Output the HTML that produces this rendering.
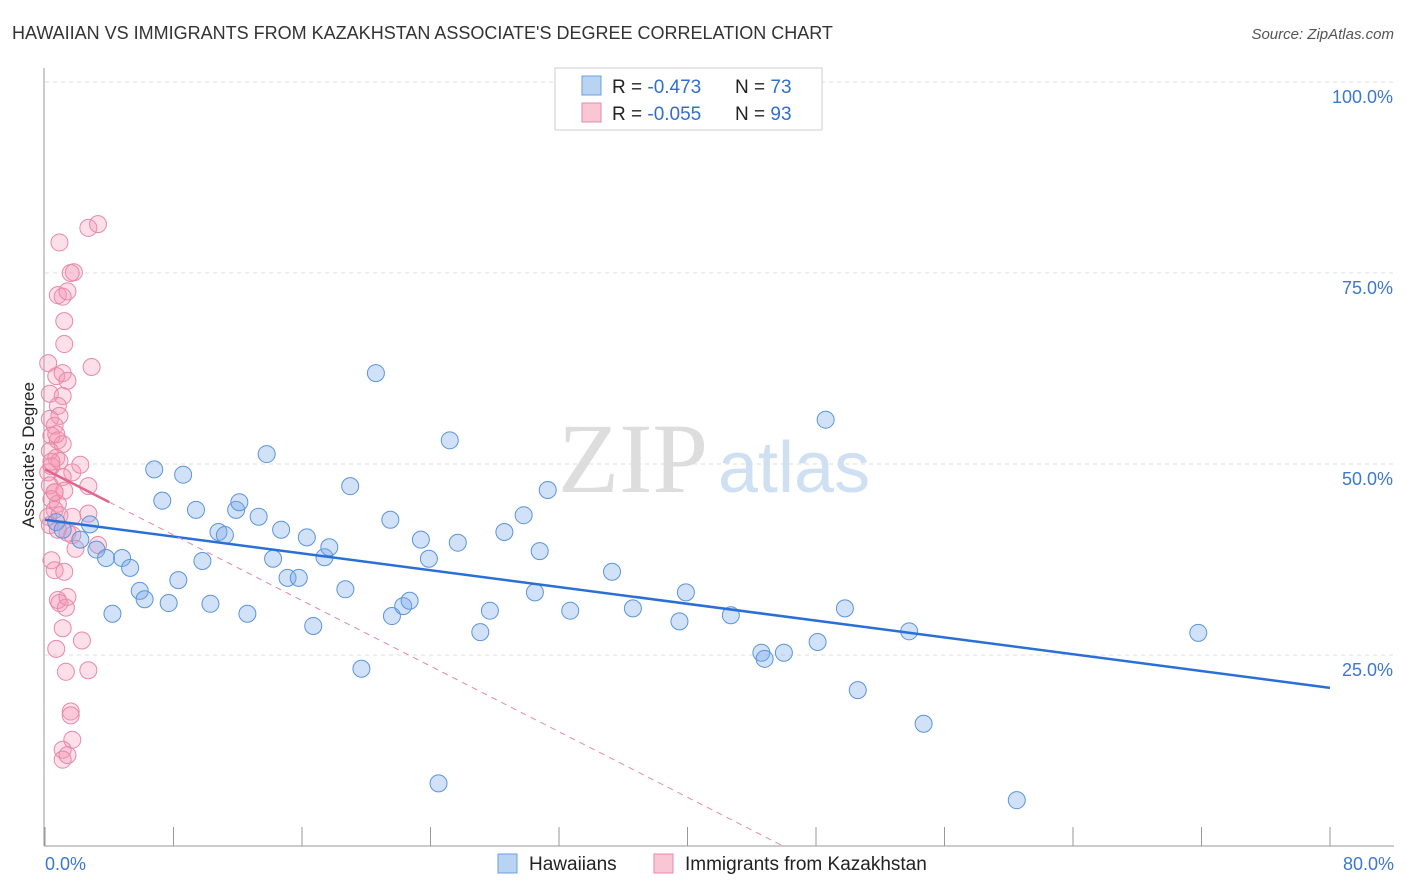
<!DOCTYPE html>
<html><head><meta charset="utf-8"><style>
body{margin:0;background:#fff;font-family:"Liberation Sans",sans-serif;}
svg{display:block}
</style></head><body>
<svg id="c" width="1406" height="892">
<text x="12" y="39" font-size="18" fill="#333">HAWAIIAN VS IMMIGRANTS FROM KAZAKHSTAN ASSOCIATE'S DEGREE CORRELATION CHART</text>
<text x="1394" y="39" font-size="15" fill="#555" font-style="italic" text-anchor="end">Source: ZipAtlas.com</text>
<text x="558" y="492" font-size="100" fill="#ddd" font-family="Liberation Serif,serif">ZIP</text>
<text x="718" y="492" font-size="72" fill="#cfe0f3">atlas</text>
<g id="grid"></g><g id="axes"></g><g id="pts"></g><g id="lines"></g>
<text x="34" y="455" font-size="17" fill="#222" text-anchor="middle" transform="rotate(-90 34 455)">Associate's Degree</text>
<g>
<rect x="555" y="68" width="267" height="62" fill="#fff" stroke="#ccc"/>
<rect x="582" y="76" width="19" height="19" fill="#b9d3f3" stroke="#6a9fe0"/>
<rect x="582" y="103" width="19" height="19" fill="#f8c6d5" stroke="#e889a8"/>
<text x="612" y="93" font-size="19" fill="#222">R = <tspan fill="#2f6fd0">-0.473</tspan><tspan x="735">N = </tspan><tspan fill="#2f6fd0">73</tspan></text>
<text x="612" y="120" font-size="19" fill="#222">R = <tspan fill="#2f6fd0">-0.055</tspan><tspan x="735">N = </tspan><tspan fill="#2f6fd0">93</tspan></text>
</g>
<g>
<rect x="498" y="854" width="19" height="19" fill="#b9d3f3" stroke="#6a9fe0"/>
<text x="529" y="870" font-size="19" fill="#222">Hawaiians</text>
<rect x="654" y="854" width="19" height="19" fill="#f8c6d5" stroke="#e889a8"/>
<text x="685" y="870" font-size="19" fill="#222">Immigrants from Kazakhstan</text>
</g>
</svg>
<script>
const yTicks=[25,50,75,100];
const yTickLabels=["25.0%","50.0%","75.0%","100.0%"];
const xTickVals=[0,8,16,24,32,40,48,56,64,72,80];
const blueX=[0.7,1.1,2.2,2.8,3.2,3.8,4.8,5.3,4.2,5.9,6.2,6.8,7.3,7.7,8.3,8.6,9.4,9.8,10.3,10.8,11.2,11.9,12.1,12.6,13.3,13.8,14.2,14.7,15.1,15.8,16.7,16.3,17.4,17.7,18.7,19.0,19.7,20.6,21.5,21.6,22.3,22.7,23.4,23.9,24.5,25.2,25.7,27.1,27.7,28.6,29.8,30.5,30.8,31.3,32.7,35.3,36.6,39.5,39.9,42.7,44.6,44.8,46.0,48.1,48.6,49.8,50.6,53.8,54.7,60.5,71.8];
const blueY=[42.4,41.4,40.1,42.1,38.8,37.7,37.7,36.4,30.4,33.4,32.3,49.3,45.2,31.8,34.8,48.6,44.0,37.3,31.7,41.1,40.7,44.0,45.0,30.4,43.1,51.3,37.6,41.4,35.1,35.1,28.8,40.4,37.8,39.1,33.6,47.1,23.2,61.9,42.7,30.1,31.4,32.1,40.1,37.6,8.2,53.1,39.7,28.0,30.8,41.1,43.3,33.2,38.6,46.6,30.8,35.9,31.1,29.4,33.2,30.2,25.3,24.5,25.3,26.7,55.8,31.1,20.4,28.1,16.0,6.0,27.9];
const pinkX=[0.9,2.7,3.3,1.8,1.6,0.8,1.1,1.4,1.2,1.2,2.9,0.2,0.7,1.1,1.4,0.3,1.1,0.8,0.9,0.3,0.6,0.4,0.8,1.1,0.3,0.7,0.9,0.4,0.2,1.7,2.2,1.1,0.3,0.6,1.2,0.4,0.8,0.6,0.2,0.9,1.7,2.7,2.7,0.3,0.8,1.4,1.7,1.9,0.4,0.6,1.2,0.8,0.9,1.3,1.4,1.1,2.3,0.7,1.3,2.7,1.6,1.6,1.7,1.1,1.4,1.1,3.3,0.7,0.4,0.6];
const pinkY=[79.0,80.9,81.4,75.1,75.0,72.1,71.9,72.6,68.7,65.7,62.7,63.2,61.5,61.9,60.9,59.2,58.9,57.6,56.3,55.9,55.0,53.7,53.1,52.6,51.7,50.8,50.4,49.7,48.9,48.9,49.9,48.3,47.2,46.3,46.5,45.4,44.8,44.0,43.1,43.3,43.1,43.5,47.1,42.0,41.4,41.0,40.7,38.9,37.4,36.1,35.9,32.2,31.8,31.2,32.6,28.5,26.9,25.8,22.8,23.0,17.6,17.1,13.9,12.6,11.9,11.3,39.4,53.9,50.3,46.3];
const blueLine=[42.7,20.7]; // value at x=0 and x=80
const pinkIntercept=49.3, pinkSlope=-1.073, pinkSolidEnd=4.0;
const NS="http://www.w3.org/2000/svg";
const X=v=>45+v/80*1285, Y=v=>846-v*7.64;
function mk(t,a,p){const e=document.createElementNS(NS,t);for(const k in a)e.setAttribute(k,a[k]);p.appendChild(e);return e;}
const grid=document.getElementById('grid'),axes=document.getElementById('axes'),pts=document.getElementById('pts'),lines=document.getElementById('lines');
yTicks.forEach((v,i)=>{
 const l=mk('line',{x1:45,x2:1394,y1:Y(v),y2:Y(v),stroke:'#ddd','stroke-dasharray':'4,4'},grid);
 
 
 const t=mk('text',{x:1393,y:Y(v)+21,'font-size':18,fill:'#3b78d0','text-anchor':'end'},axes);
 t.textContent=yTickLabels[i];
 
 
});
const ya=mk('line',{x1:44,x2:44,y1:68,y2:846,stroke:'#999'},axes);


const xa=mk('line',{x1:44,x2:1394,y1:846,y2:846,stroke:'#999'},axes);


xTickVals.forEach(v=>{
 const t=mk('line',{x1:X(v),x2:X(v),y1:827,y2:846,stroke:'#999'},axes);
 
 
});
const xl0=mk('text',{x:45,y:870,'font-size':18,fill:'#3b78d0'},axes);xl0.textContent='0.0%';


const xl1=mk('text',{x:1394,y:870,'font-size':18,fill:'#3b78d0','text-anchor':'end'},axes);xl1.textContent='80.0%';


pinkX.forEach((v,i)=>{
 const c=mk('circle',{cx:X(v),cy:Y(pinkY[i]),r:8.5,fill:'rgba(244,150,180,0.3)',stroke:'#e889a8','stroke-width':1},pts);
 
 
});
blueX.forEach((v,i)=>{
 const c=mk('circle',{cx:X(v),cy:Y(blueY[i]),r:8.5,fill:'rgba(120,170,235,0.35)',stroke:'#5b95dc','stroke-width':1},pts);
 
 
});
const bl=mk('line',{x1:X(0),y1:Y(blueLine[0]),x2:X(80),y2:Y(blueLine[1]),stroke:'#2a6fd6','stroke-width':2.5},lines);


const zx=-pinkIntercept/pinkSlope;
const pd=mk('line',{x1:X(pinkSolidEnd),y1:Y(pinkIntercept+pinkSlope*pinkSolidEnd),x2:X(zx),y2:Y(0),stroke:'#e889a8','stroke-width':1,'stroke-dasharray':'6,5'},lines);


const ps=mk('line',{x1:X(0),y1:Y(pinkIntercept),x2:X(pinkSolidEnd),y2:Y(pinkIntercept+pinkSlope*pinkSolidEnd),stroke:'#e06690','stroke-width':2.5},lines);


</script>
</body></html>
